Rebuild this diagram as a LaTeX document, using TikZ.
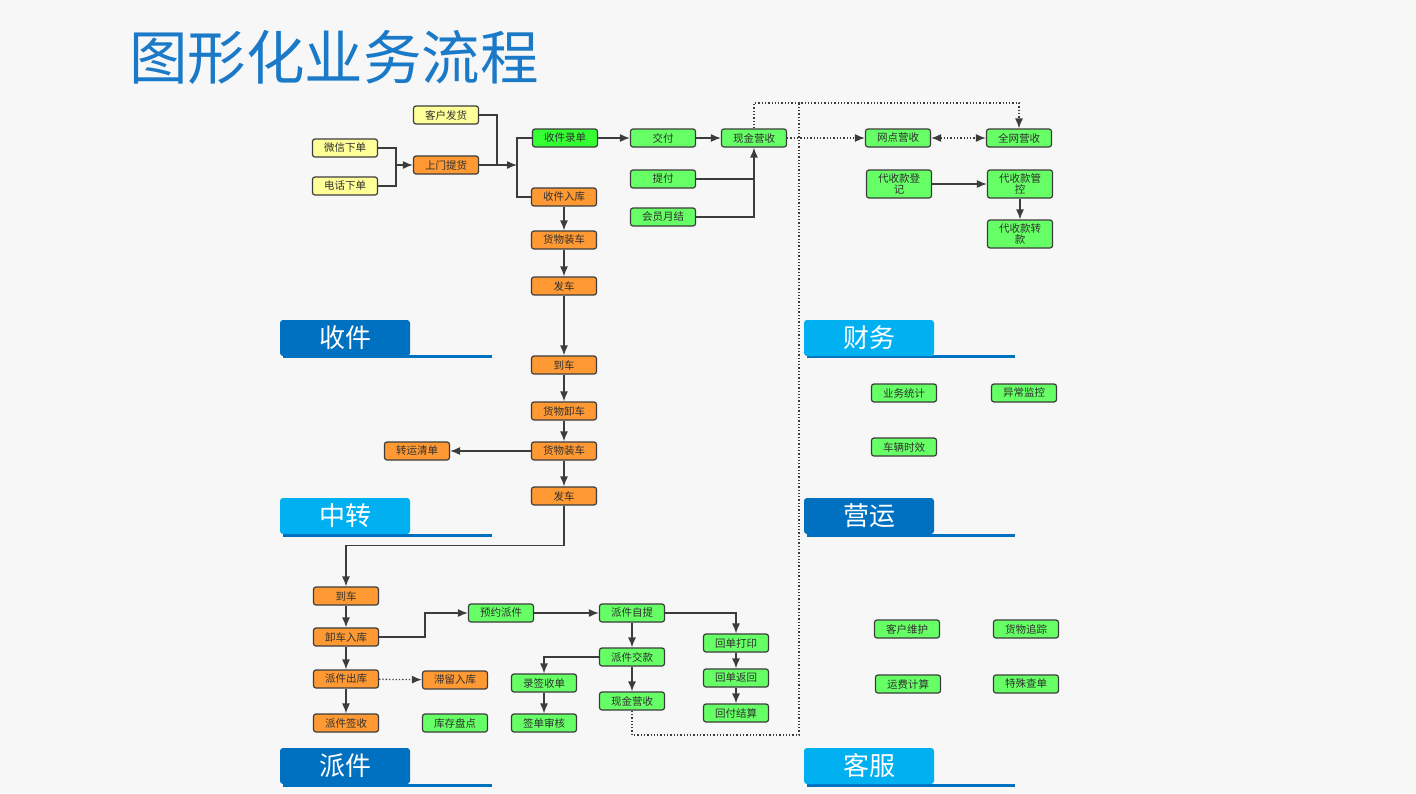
\documentclass[tikz,border=0pt]{standalone}
\usepackage{fontspec}
\setmainfont{Noto Sans CJK SC}
\newfontfamily\cjk{Noto Sans CJK SC}
\usetikzlibrary{arrows.meta,positioning,calc}
\definecolor{bg}{HTML}{F7F7F7}
\definecolor{ndraw}{HTML}{3C3C3C}
\definecolor{ntext}{HTML}{303030}
\definecolor{cyel}{HTML}{FFFF99}
\definecolor{cora}{HTML}{FF9933}
\definecolor{cgrn}{HTML}{66FF66}
\definecolor{cgrn2}{HTML}{33FF33}
\definecolor{dblue}{HTML}{0070C0}
\definecolor{lblue}{HTML}{00B0F0}
\definecolor{tblue}{HTML}{1A7AC8}
\begin{document}
\begin{tikzpicture}[x=1pt,y=-1pt,
  box/.style={draw=ndraw, line width=1.2pt, rounded corners=2.5pt, minimum width=65pt, minimum height=18pt, inner sep=0pt, font=\cjk\fontsize{10.5}{12}\selectfont, text=ntext, align=center},
  box2/.style={box, minimum height=28pt, text width=60pt, font=\cjk\fontsize{10.5}{11}\selectfont},
  yel/.style={box, fill=cyel},
  ora/.style={box, fill=cora},
  grn/.style={box, fill=cgrn},
  line/.style={draw=ndraw, line width=1.3pt},
  arr/.style={line, -{Latex[length=10pt,width=8pt]}},
  dline/.style={draw=ndraw, line width=1.3pt, dash pattern=on 1.3pt off 2pt},
  darr/.style={dline, -{Latex[length=10pt,width=8pt]}},
  ddarr/.style={dline, {Latex[length=10pt,width=8pt]}-{Latex[length=10pt,width=8pt]}},
  secbox/.style={rounded corners=3pt, minimum width=130pt, minimum height=36pt, inner sep=0pt, text=white, font=\cjk\fontsize{26}{28}\selectfont},
  uline/.style={draw=dblue, line width=3pt}
]
\useasboundingbox (0,0) rectangle (1416,793);
\fill[bg] (0,0) rectangle (1416,793);

% title
\node[text=tblue, font=\cjk\fontsize{58.5}{62}\selectfont, anchor=west, inner sep=0pt] (title) at (129,57) {图形化业务流程};

% section labels
\draw[uline] (283,356) -- (492,356);
\node[secbox, fill=dblue] (s1) at (345,338) {收件};
\draw[uline] (807,356) -- (1015,356);
\node[secbox, fill=lblue] (s2) at (869,338) {财务};
\draw[uline] (283,535) -- (492,535);
\node[secbox, fill=lblue] (s3) at (345,516) {中转};
\draw[uline] (807,535) -- (1015,535);
\node[secbox, fill=dblue] (s4) at (869,516) {营运};
\draw[uline] (283,785) -- (492,785);
\node[secbox, fill=dblue] (s5) at (345,766) {派件};
\draw[uline] (807,785) -- (1015,785);
\node[secbox, fill=lblue] (s6) at (869,766) {客服};

% 收件
\node[yel] (khfh) at (446,115) {客户发货};
\node[yel] (wx) at (345,148) {微信下单};
\node[yel] (dh) at (345,186) {电话下单};
\node[ora] (smth) at (446,165) {上门提货};
\node[box, fill=cgrn2] (sjld) at (565,138) {收件录单};
\node[ora] (sjrk) at (564,197) {收件入库};
\node[ora] (hwzc1) at (564,240) {货物装车};
\node[ora] (fc1) at (564,286) {发车};

% 财务 top
\node[grn] (jf) at (663,138) {交付};
\node[grn] (xjys1) at (754,138) {现金营收};
\node[grn] (tf) at (663,179) {提付};
\node[grn] (hyyj) at (663,217) {会员月结};
\node[grn] (wdys) at (898,138) {网点营收};
\node[grn] (qwys) at (1019,138) {全网营收};
\node[grn, box2] (dkdj) at (899,184) {代收款登\\记};
\node[grn, box2] (dkgk) at (1020,184) {代收款管\\控};
\node[grn, box2] (dkzk) at (1020,234) {代收款转\\款};

% 中转
\node[ora] (dc1) at (564,365) {到车};
\node[ora] (hwxc) at (564,411) {货物卸车};
\node[ora] (hwzc2) at (564,451) {货物装车};
\node[ora] (zyqd) at (417,451) {转运清单};
\node[ora] (fc2) at (564,496) {发车};

% 派件
\node[ora] (dc2) at (346,596) {到车};
\node[ora] (xcrk) at (346,637) {卸车入库};
\node[ora] (pjck) at (346,679) {派件出库};
\node[ora] (pjqs) at (346,723) {派件签收};
\node[ora] (zlrk) at (455,680) {滞留入库};
\node[grn] (kcpd) at (455,723) {库存盘点};
\node[grn] (yypj) at (501,613) {预约派件};
\node[grn] (pjzt) at (632,613) {派件自提};
\node[grn] (pjjk) at (632,657) {派件交款};
\node[grn] (xjys2) at (632,701) {现金营收};
\node[grn] (lqsd) at (544,683) {录签收单};
\node[grn] (qdsh) at (544,723) {签单审核};
\node[grn] (hddy) at (736,643) {回单打印};
\node[grn] (hdfh) at (736,678) {回单返回};
\node[grn] (hfjs) at (736,713) {回付结算};

% 营运 / 客服
\node[grn] (ywtj) at (904,393) {业务统计};
\node[grn] (ycjk) at (1024,393) {异常监控};
\node[grn] (clsx) at (904,447) {车辆时效};
\node[grn] (khwh) at (907,629) {客户维护};
\node[grn] (hwzz) at (1026,629) {货物追踪};
\node[grn] (yfjs) at (908,684) {运费计算};
\node[grn] (tscd) at (1026,684) {特殊查单};

% connectors 收件
\coordinate (j1) at (396,165);
\draw[line] (wx.east) -| (j1);
\draw[line] (dh.east) -| (j1);
\draw[arr] (j1) -- (smth.west);
\coordinate (j2) at (497,165);
\draw[line] (khfh.east) -| (j2);
\coordinate (j3) at (517,165);
\draw[arr] (smth.east) -- (j3);
\draw[line] (sjld.west) -| (j3) |- (sjrk.west);
\draw[arr] (sjrk) -- (hwzc1);
\draw[arr] (hwzc1) -- (fc1);
\draw[arr] (fc1) -- (dc1);

% 财务
\draw[arr] (sjld) -- (jf);
\draw[arr] (jf) -- (xjys1);
\draw[line] (tf.east) -- (tf.east -| xjys1.south);
\draw[arr] (hyyj.east) -| (xjys1.south);
\draw[darr] (xjys1) -- (wdys);
\draw[ddarr] (wdys) -- (qwys);
\draw[arr] (dkdj) -- (dkgk);
\draw[arr] (dkgk) -- (dkzk);

% 中转
\draw[arr] (dc1) -- (hwxc);
\draw[arr] (hwxc) -- (hwzc2);
\draw[arr] (hwzc2) -- (fc2);
\draw[arr] (hwzc2) -- (zyqd);
\draw[arr] (fc2.south) -- ++(0,40) -| (dc2.north);

% 派件
\draw[arr] (dc2) -- (xcrk);
\draw[arr] (xcrk) -- (pjck);
\draw[arr] (pjck) -- (pjqs);
\draw[darr] (pjck) -- (zlrk);
\draw[arr] (xcrk.east) -- ++(46,0) |- (yypj.west);
\draw[arr] (yypj) -- (pjzt);
\draw[arr] (pjzt.east) -| (hddy.north);
\draw[arr] (pjzt) -- (pjjk);
\draw[arr] (pjjk) -- (xjys2);
\draw[arr] (pjjk.west) -| (lqsd.north);
\draw[arr] (lqsd) -- (qdsh);
\draw[arr] (hddy) -- (hdfh);
\draw[arr] (hdfh) -- (hfjs);

% dotted long connectors
\coordinate (dbr) at (799,735);
\coordinate (dtr) at (799,103);
\draw[dline] (xjys2.south) |- (dbr) -- (dtr);
\draw[darr] (xjys1.north) |- (dtr) -| (qwys.north);
\end{tikzpicture}
\end{document}
